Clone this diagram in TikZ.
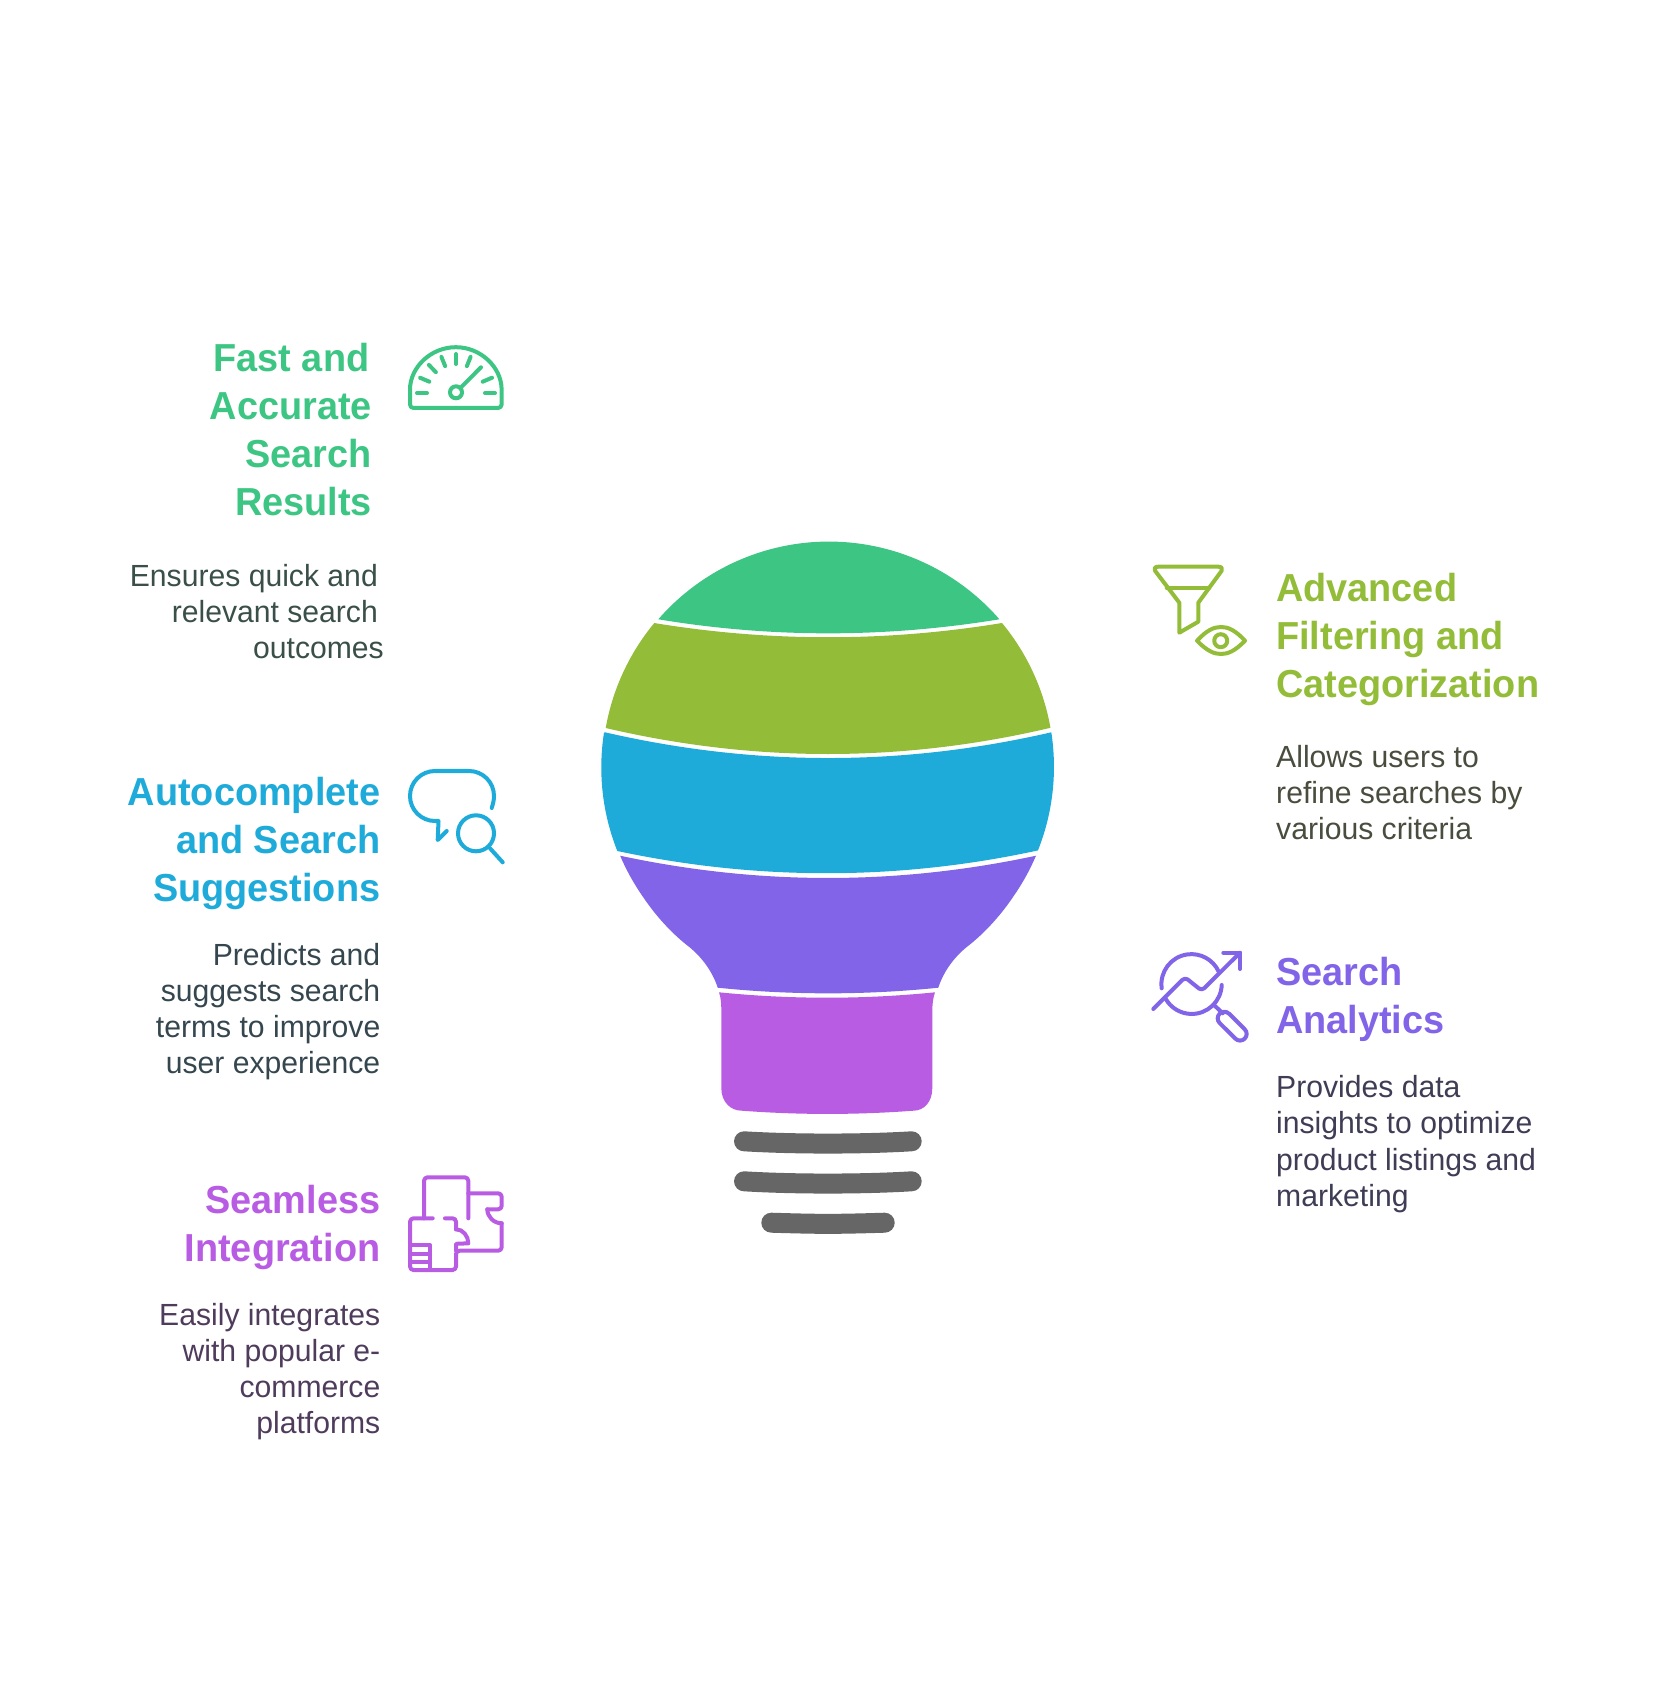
\documentclass[tikz,border=0pt]{standalone}
\usepackage{fontspec}
\setmainfont[FakeStretch=0.985]{Liberation Sans}
\newfontfamily\headingfont[FakeStretch=0.97]{Liberation Sans}
\definecolor{fastgreen}{HTML}{3DC583}
\definecolor{filterolive}{HTML}{93BC39}
\definecolor{suggestblue}{HTML}{1EABDA}
\definecolor{analyticspurple}{HTML}{8164E8}
\definecolor{seamlessmagenta}{HTML}{B85CE3}
\definecolor{lampgray}{HTML}{666666}
\definecolor{fasttext}{HTML}{3A4F49}
\definecolor{filtertext}{HTML}{484D3E}
\definecolor{suggesttext}{HTML}{35464F}
\definecolor{analyticstext}{HTML}{3F3D55}
\definecolor{seamlesstext}{HTML}{4F3C5C}
\tikzset{
	heading/.style={font=\fontsize{11.1pt}{13.66pt}\selectfont\headingfont\bfseries},
	blurb/.style={font=\fontsize{8.7pt}{10.24pt}\selectfont},
	leftside/.style={anchor=base east, align=right, inner sep=0pt},
	rightside/.style={anchor=base west, align=left, inner sep=0pt},
	glyph/.style={line width=1.14pt, line cap=round, line join=round}
}
\def\lampbar(#1:#2:#3:#4){\fill[lampgray] ({#1+10},#3) .. controls ({#1+60},{#3+#4}) and ({#2-60},{#3+#4}) .. ({#2-10},#3) arc (-90:90:10) .. controls ({#2-60},{#3+20+#4}) and ({#1+60},{#3+20+#4}) .. ({#1+10},{#3+20}) arc (90:270:10) -- cycle;}

\begin{document}
\begin{tikzpicture}[x=0.01cm,y=-0.01cm]
	\useasboundingbox (0,0) rectangle (1656,1704);
	
	\fill[fastgreen] (658.3,619.3) arc (221:319:226) .. controls (885,638) and (771,638) .. (658.3,619.3) -- cycle;
	\fill[filterolive] (654,623) .. controls (770,642) and (886,642) .. (1002,623) arc (320.4:350:226) .. controls (902,762.7) and (754,762.7) .. (605.7,728) arc (190:219.6:226) -- cycle;
	\fill[suggestblue] (605,732.3) .. controls (754,766.6) and (902,766.6) .. (1051.3,732.3) arc (351.2:381.7:226) .. controls (898,880.7) and (757,880.7) .. (617.3,851) arc (158.3:188.8:226) -- cycle;
	\fill[analyticspurple] (620,855.7) .. controls (759,885.4) and (897,885.4) .. (1036,855.7) arc (23.1:34.7:226) .. controls (1003,912) and (988,930) .. (969.3,945) .. controls (956,955) and (944,970) .. (938.3,987.7) .. controls (865,995.2) and (791,995.2) .. (717.7,987.7) .. controls (712,970) and (700,955) .. (686.7,945) .. controls (668,930) and (653,912) .. (642.2,895.7) arc (145.3:156.9:226) -- cycle;
	\fill[seamlessmagenta] (719,992.3) .. controls (791,999.5) and (863,999.5) .. (935,992.3) .. controls (933,998) and (932.3,1004) .. (932.3,1012) -- (932.3,1088) .. controls (932.3,1102) and (924,1110.7) .. (913.3,1110.7) .. controls (856,1115) and (799,1115) .. (741.7,1110.7) .. controls (730.6,1110.7) and (721.3,1102) .. (721.3,1088) -- (721.3,1012) .. controls (721.3,1004) and (721,998) .. (719,992.3) -- cycle;
	\lampbar(734:921.7:1131.3:3)
	\lampbar(734:921.7:1171.3:3)
	\lampbar(761.3:894.7:1212.7:1.5)
	
	\node[heading, leftside, text=fastgreen] (fasttitle) at (372.5,515.7) {Fast and\kern0.7pt\\Accurate\\Search\\Results};
	\node[blurb, leftside, text=fasttext] (fastblurb) at (384.5,658.3) {Ensures quick and\kern1.7pt\\relevant search\kern1.7pt\\outcomes};
	\node[heading, leftside, text=suggestblue] (suggesttitle) at (381,901.7) {Autocomplete\\and Search\\Suggestions};
	\node[blurb, leftside, text=suggesttext] (suggestblurb) at (381,1073.3) {Predicts and\\suggests search\\terms to improve\\user experience};
	\node[heading, leftside, text=seamlessmagenta] (seamlesstitle) at (381,1261.5) {Seamless\\Integration};
	\node[blurb, leftside, text=seamlesstext] (seamlessblurb) at (381,1433.3) {Easily integrates\\with popular e-\\commerce\\platforms};
	\node[heading, rightside, text=filterolive] (filtertitle) at (1275.5,697.7) {Advanced\\Filtering and\\Categorization};
	\node[blurb, rightside, text=filtertext] (filterblurb) at (1275.5,839.3) {Allows users to\\refine searches by\\various criteria};
	\node[heading, rightside, text=analyticspurple] (analyticstitle) at (1275.5,1033.5) {Search\\Analytics};
	\node[blurb, rightside, text=analyticstext] (analyticsblurb) at (1275.5,1206) {Provides data\\insights to optimize\\product listings and\\marketing};
	
	\draw[glyph, fastgreen, rounded corners=1pt] (410,393) arc (180:360:45.8) -- (501.6,408) -- (410,408) -- cycle;
	\draw[glyph, fastgreen] (456,392.3) circle (6);
	\draw[glyph, fastgreen] (461.7,386.7) -- (481,367.3);
	\foreach \tick in {180,203,226,248,270,292,337,360}
		\draw[glyph, fastgreen, shift={(456,393)}] (\tick:29) -- (\tick:39);
	
	\draw[glyph, suggestblue] (491.7,808) .. controls (493,804) and (494,800) .. (494,796) arc (0:-90:25) -- (435,771) arc (270:90:25) -- (438.5,821) -- (437.7,840) -- (446.7,831);
	\draw[glyph, suggestblue] (476,833.3) circle (18);
	\draw[glyph, suggestblue] (490,848.3) -- (502.7,862.3);
	
	\draw[glyph, seamlessmagenta, rounded corners=1pt] (424,1218.3) -- (424,1177.3) -- (468.3,1177.3) -- (468.3,1218.3);
	\draw[glyph, seamlessmagenta, rounded corners=1pt] (432.7,1218.3) -- (410,1218.3) -- (410,1270) -- (456,1270) -- (456,1250.7) -- (501.7,1250.7) -- (501.7,1223.3);
	\draw[glyph, seamlessmagenta, rounded corners=1pt] (445,1218.3) -- (456,1218.3) -- (456,1229.3);
	\draw[glyph, seamlessmagenta] (456,1229.3) .. controls (463,1229.3) and (468.3,1236) .. (468.3,1243.3) -- (456,1243.8) -- (456,1250.7);
	\draw[glyph, seamlessmagenta, rounded corners=1pt] (468.3,1193.3) -- (501.7,1193.3) -- (501.7,1209.3) -- (487.3,1209.3);
	\draw[glyph, seamlessmagenta] (487.3,1209.3) .. controls (487.3,1217) and (494,1223.3) .. (501.7,1223.3);
	\draw[glyph, seamlessmagenta] (410,1245) -- (430,1245) -- (430,1270);
	\draw[glyph, seamlessmagenta] (410,1254) -- (430,1254);
	\draw[glyph, seamlessmagenta] (410,1261.7) -- (430,1261.7);
	
	\draw[glyph, filterolive] (1158.3,566.7) -- (1218.3,566.7) .. controls (1221.5,566.7) and (1223,568.5) .. (1221.7,570.7) -- (1198.3,602.7) -- (1198.3,621.7) -- (1179.3,632.7) -- (1179.3,602.7) -- (1155,570.7) .. controls (1153.5,568.5) and (1155,566.7) .. (1158.3,566.7) -- cycle;
	\draw[glyph, filterolive] (1166.7,587.7) -- (1209.3,587.7);
	\draw[glyph, filterolive] (1197,640.7) .. controls (1207,630) and (1214,627) .. (1221,627) .. controls (1228,627) and (1235,630) .. (1245,640.7) .. controls (1235,651) and (1228,654) .. (1221,654) .. controls (1214,654) and (1207,651) .. (1197,640.7) -- cycle;
	\draw[glyph, filterolive] (1220.7,640.7) circle (6.5);
	
	\draw[glyph, analyticspurple] (1161.7,988.3) arc (172:335:30);
	\draw[glyph, analyticspurple] (1221.7,985) arc (2:151:30);
	\draw[glyph, analyticspurple, rounded corners=1pt] (1153.3,1009) -- (1185,977.3) -- (1201.7,990.7) -- (1240,952.7);
	\draw[glyph, analyticspurple] (1223.3,952.7) -- (1240,952.7) -- (1240,969);
	\draw[glyph, analyticspurple] (1215,1006) -- (1222.7,1013.3);
	\draw[glyph, analyticspurple] (1229,1013.6) -- (1244.7,1029.3) arc (-45:135:6.6) -- (1219.6,1023) arc (135:315:6.6) -- cycle;
\end{tikzpicture}
\end{document}
